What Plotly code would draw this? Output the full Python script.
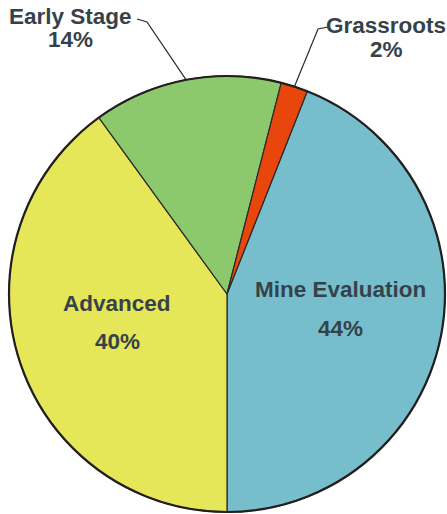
import math
import plotly.graph_objects as go

# Share of projects by development stage
stages = ["Mine Evaluation", "Advanced", "Early Stage", "Grassroots"]
shares = [44, 40, 14, 2]
colors = ["#76BECB", "#E5E758", "#8CC96C", "#E8460C"]

W, H = 447, 514
CX, CY, R = 227, 294, 218          # pie centre and radius in pixels
ROTATION = 180 - 360 * shares[0] / 100   # first slice ends at 6 o'clock

FONT = dict(family="Liberation Sans, Arial, sans-serif", size=22.5,
            color="#36424A", weight="bold")


def px(x):
    return x / W


def py(y):
    return 1 - y / H


fig = go.Figure(go.Pie(
    labels=stages,
    values=shares,
    sort=False,
    direction="clockwise",
    rotation=ROTATION,
    marker=dict(colors=colors, line=dict(color="#2a2a2a", width=1.2)),
    textinfo="none",
    hoverinfo="label+percent",
    showlegend=False,
    domain=dict(x=[px(CX - R), px(CX + R)], y=[py(CY + R), py(CY - R)]),
))

# slice mid-angles, measured clockwise from 12 o'clock
mid = {}
start = ROTATION
for name, v in zip(stages, shares):
    span = 360 * v / sum(shares)
    mid[name] = start + span / 2
    start += span


def polar(angle, r):
    a = math.radians(angle)
    return CX + r * math.sin(a), CY - r * math.cos(a)


annotations = []
shapes = []


def add_label(name, value, x, y_name, y_pct):
    annotations.append(dict(x=px(x), y=py(y_name), xref="paper", yref="paper",
                            text=name, showarrow=False, font=FONT,
                            xanchor="center", yanchor="middle"))
    annotations.append(dict(x=px(x), y=py(y_pct), xref="paper", yref="paper",
                            text=f"{value}%", showarrow=False, font=FONT,
                            xanchor="center", yanchor="middle"))


# labels inside the two large slices
for name, gap in (("Mine Evaluation", 19.5), ("Advanced", 19)):
    v = shares[stages.index(name)]
    lx, ly = polar(mid[name], 0.53 * R)
    add_label(name, v, lx, ly - gap - 7, ly + gap - 7)

# labels outside the two small slices, with elbow leader lines
outside = {
    "Early Stage": dict(x=70, y1=17, y2=40, elbow=[(137, 19), (147, 22)]),
    "Grassroots": dict(x=386, y1=25, y2=49, elbow=[(328, 27), (318, 29)]),
}
for name, o in outside.items():
    v = shares[stages.index(name)]
    add_label(name, v, o["x"], o["y1"], o["y2"])
    ex, ey = polar(mid[name], R)
    pts = o["elbow"] + [(ex, ey)]
    path = "M " + " L ".join(f"{px(a)},{py(b)}" for a, b in pts)
    shapes.append(dict(type="path", path=path, xref="paper", yref="paper",
                       line=dict(color="#2a2a2a", width=1.2)))

# heavier rim around the pie
shapes.append(dict(type="circle", xref="paper", yref="paper",
                   x0=px(CX - R), x1=px(CX + R), y0=py(CY + R), y1=py(CY - R),
                   line=dict(color="#231F20", width=2.2)))

fig.update_layout(
    width=W, height=H,
    margin=dict(l=0, r=0, t=0, b=0),
    paper_bgcolor="white",
    plot_bgcolor="white",
    annotations=annotations,
    shapes=shapes,
)

fig.write_html("out.html", config={"displayModeBar": False})
